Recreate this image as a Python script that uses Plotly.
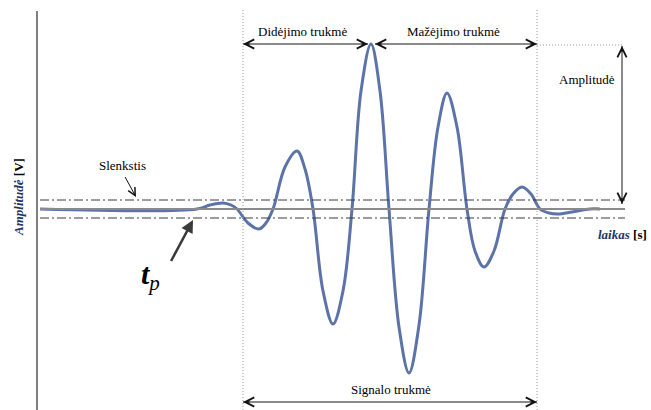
import plotly.graph_objects as go

# ---- data (time in px-like units, amplitude in arbitrary units, baseline = 0) ----
time = [40, 197, 210, 223, 231, 237, 248, 259, 266, 273, 285, 297, 305, 313, 323, 333, 343,
        352, 361, 371, 380, 389, 399, 409, 419, 429, 438, 447, 457, 467, 475, 484, 494,
        505, 513, 522, 531, 540, 549, 558, 572, 590, 600]
amplitude = [0, 0, 4, 6, 4, 0, -14, -20, -14, 0, 42, 58, 40, 0, -82, -115, -82,
             0, 118, 165, 118, 0, -118, -164, -116, 0, 82, 116, 82, 0, -42, -58, -42,
             0, 15, 22, 15, 0, -4, -5, -3, 0, 0]
threshold_hi = 9
threshold_lo = -9
t_start = 243
t_peak = 371
t_end = 537
peak_amp = 164

labels = {
    "rise": "Didėjimo trukmė",
    "fall": "Mažėjimo trukmė",
    "amp": "Amplitudė",
    "dur": "Signalo trukmė",
    "thr": "Slenkstis",
}

Y0 = 209  # baseline pixel row


def a(py):
    return Y0 - py


FONT = "Liberation Serif, DejaVu Serif, Times New Roman, serif"
fig = go.Figure()

# baseline
fig.add_shape(type="line", x0=40, x1=625, y0=0, y1=0, line=dict(color="#8a8a8a", width=2))
# threshold dash-dot lines
for th in (threshold_hi, threshold_lo):
    fig.add_shape(type="line", x0=40, x1=625, y0=th, y1=th,
                  line=dict(color="#3a3a3a", width=1, dash="9px,3px,2px,3px"))
# vertical dotted lines
for xv in (t_start, t_end):
    fig.add_shape(type="line", x0=xv, x1=xv, y0=a(10), y1=a(410),
                  line=dict(color="#999999", width=1, dash="1px,2px"))
# horizontal dotted at peak level
fig.add_shape(type="line", x0=t_end, x1=622, y0=peak_amp, y1=peak_amp,
              line=dict(color="#999999", width=1, dash="1px,2px"))
# y axis line
fig.add_shape(type="line", x0=37, x1=37, y0=a(11), y1=a(410), line=dict(color="#000000", width=1))

# signal
fig.add_trace(go.Scatter(x=time, y=amplitude, mode="lines",
                         line=dict(color="#5b73a8", width=3, shape="spline", smoothing=1),
                         hoverinfo="skip", showlegend=False))


def double_arrow(x0, y0, x1, y1):
    fig.add_shape(type="line", x0=x0, x1=x1, y0=y0, y1=y1, line=dict(color="#8a8a8a", width=2))
    for (tx, ty, sx, sy) in ((x0, y0, x1, y1), (x1, y1, x0, y0)):
        dx, dy = sx - tx, sy - ty
        ln = (dx * dx + dy * dy) ** 0.5
        fig.add_annotation(x=tx, y=ty, ax=tx + dx / ln * 8, ay=ty + dy / ln * 8,
                           xref="x", yref="y", axref="x", ayref="y", text=" ",
                           showarrow=True, arrowhead=5, arrowsize=1.4, arrowwidth=1.3,
                           arrowcolor="#111111", font=dict(size=1))


double_arrow(t_start, a(44), 368, a(44))
double_arrow(375, a(44), t_end, a(44))
double_arrow(t_start, a(402), t_end, a(402))
double_arrow(622, a(46), 622, a(204))


def txt(x, py, s, size=13, **kw):
    fig.add_annotation(x=x, y=a(py), xref="x", yref="y", text=s, showarrow=False,
                       font=dict(family=FONT, size=size, color=kw.pop("color", "#000000")), **kw)


txt(302, 31, labels["rise"])
txt(453, 31, labels["fall"])
txt(587, 79, labels["amp"])
txt(391, 389, labels["dur"])
txt(122, 165, labels["thr"])
txt(622, 234, "<b><i><span style='color:#1f3566'>laikas</span></i> [s]</b>")
txt(18, 197, "<b><i><span style='color:#1f3566'>Amplitudė</span></i> [V]</b>", textangle=-90)
txt(150, 276, "<b><i>t</i></b><sub><i>p</i></sub>", size=30)

# Slenkstis arrow (thin)
fig.add_annotation(x=136, y=a(197), ax=124, ay=a(175), xref="x", yref="y", axref="x", ayref="y",
                   text=" ", showarrow=True, arrowhead=5, arrowsize=1.5, arrowwidth=1,
                   arrowcolor="#111111", font=dict(size=1))
# t_p arrow (thick)
fig.add_annotation(x=193, y=a(220), ax=170, ay=a(263), xref="x", yref="y", axref="x", ayref="y",
                   text=" ", showarrow=True, arrowhead=2, arrowsize=1, arrowwidth=2.5,
                   arrowcolor="#3a3a3a", font=dict(size=1))

fig.update_layout(
    width=651, height=410, margin=dict(l=0, r=0, t=0, b=0),
    paper_bgcolor="white", plot_bgcolor="white",
    font=dict(family=FONT),
    xaxis=dict(range=[0, 651], visible=False, fixedrange=True),
    yaxis=dict(range=[a(410), a(0)], visible=False, fixedrange=True),
    showlegend=False,
)

fig.write_html("out.html")
